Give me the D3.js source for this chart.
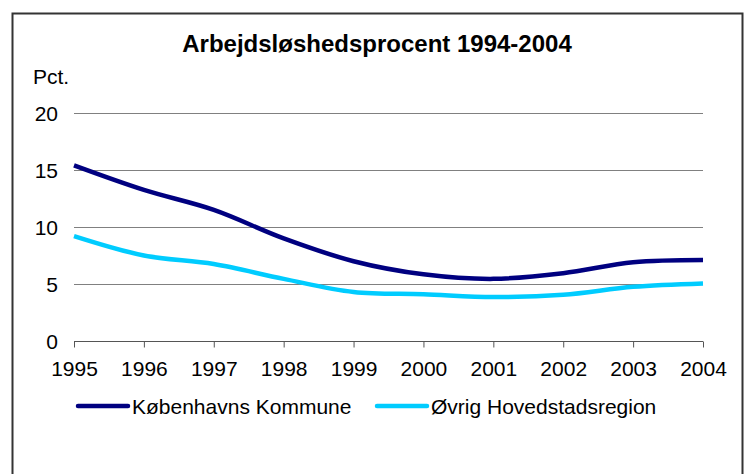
<!DOCTYPE html>
<html>
<head>
<meta charset="utf-8">
<script src="https://cdn.jsdelivr.net/npm/d3@7"></script>
<style>
  body { margin: 0; background: #fff; }
  svg { display: block; font-family: 'Liberation Sans', Arial, sans-serif; }
</style>
</head>
<body>
<div id="chart"></div>
<script>
// data
var years = [1995, 1996, 1997, 1998, 1999, 2000, 2001, 2002, 2003, 2004];
var kbhValues = [15.4, 13.25, 11.5, 9.0, 7.0, 5.85, 5.45, 5.95, 6.9, 7.1];
var ovrigValues = [9.2, 7.5, 6.75, 5.45, 4.3, 4.1, 3.85, 4.05, 4.75, 5.05];
var yTicks = [0, 5, 10, 15, 20];
var seriesNames = ['Københavns Kommune', 'Øvrig Hovedstadsregion'];
var seriesColors = ['#000080', '#00ccff'];

(function(){
  'use strict';

  var W = 748, H = 474;
  var fontSize = 21;
  var svg = d3.select('#chart').append('svg').attr('width', W).attr('height', H);

  // outer frame (bottom edge runs off the picture)
  svg.append('path')
    .attr('d', 'M12.5,' + (H + 2) + 'V13.5H742.5V' + (H + 2))
    .attr('fill', 'none').attr('stroke', '#333').attr('stroke-width', 2);

  svg.append('text').attr('x', 377).attr('y', 52)
    .attr('text-anchor', 'middle').attr('font-size', 24).attr('font-weight', 'bold')
    .text('Arbejdsløshedsprocent 1994-2004');

  svg.append('text').attr('x', 33).attr('y', 84).attr('font-size', fontSize).text('Pct.');

  var x = d3.scalePoint().domain(years).range([74, 703]);
  var y = d3.scaleLinear().domain([0, 20]).range([341, 113]);

  // gridlines
  svg.append('g').selectAll('line').data(yTicks.filter(function(d){ return d > 0; })).enter()
    .append('line')
    .attr('x1', 74).attr('x2', 703)
    .attr('y1', function(d){ return Math.round(y(d)) + 0.5; })
    .attr('y2', function(d){ return Math.round(y(d)) + 0.5; })
    .attr('stroke', '#808080').attr('stroke-width', 1);

  // y tick labels
  svg.append('g').selectAll('text').data(yTicks).enter()
    .append('text')
    .attr('x', 58).attr('y', function(d){ return y(d) + 7.5; })
    .attr('text-anchor', 'end').attr('font-size', fontSize)
    .text(function(d){ return d; });

  // x axis
  var xAxis = svg.append('g')
    .attr('transform', 'translate(0,' + (Math.round(y(0)) + 0.5) + ')')
    .call(d3.axisBottom(x).tickSize(6).tickSizeOuter(0).tickPadding(14));
  xAxis.select('.domain').attr('stroke', '#555').attr('d', 'M74,0H703');
  xAxis.selectAll('.tick line').attr('stroke', '#555');
  xAxis.selectAll('.tick text').attr('font-size', fontSize).attr('fill', '#000')
    .attr('font-family', "'Liberation Sans', Arial, sans-serif");

  var line = d3.line()
    .x(function(d, i){ return x(years[i]); })
    .y(function(d){ return y(d); })
    .curve(d3.curveCatmullRom.alpha(0.5));

  var series = [kbhValues, ovrigValues];
  // draw the light series first so the dark one sits on top
  [1, 0].forEach(function(k){
    svg.append('path').datum(series[k])
      .attr('d', line)
      .attr('fill', 'none')
      .attr('stroke', seriesColors[k])
      .attr('stroke-width', 4.5)
      .attr('stroke-linejoin', 'round');
  });

  // legend
  var legendX = [78, 377];
  var legend = svg.append('g').selectAll('g').data(seriesNames).enter()
    .append('g')
    .attr('transform', function(d, i){ return 'translate(' + legendX[i] + ',406)'; });
  legend.append('line')
    .attr('x1', 0).attr('x2', 50).attr('y1', 0).attr('y2', 0)
    .attr('stroke', function(d, i){ return seriesColors[i]; })
    .attr('stroke-width', 4.5).attr('stroke-linecap', 'round');
  legend.append('text')
    .attr('x', 54).attr('y', 8).attr('font-size', fontSize)
    .text(function(d){ return d; });
})();
</script>
</body>
</html>
